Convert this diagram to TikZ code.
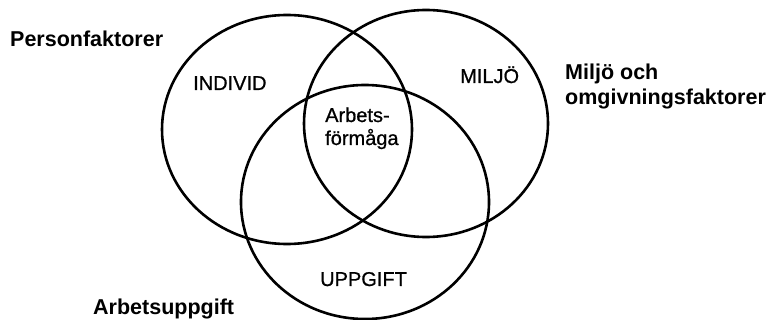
\documentclass[tikz,border=0pt]{standalone}
\usepackage{fontspec}
\setmainfont{Liberation Sans}
\newfontfamily\innerfont[FakeBold=0.8]{Liberation Sans}
\usetikzlibrary{shapes.geometric}
\tikzset{
  venn/.style={draw=black, line width=2.6pt, ellipse, inner sep=0pt},
  outer/.style={font=\fontsize{21.5}{25}\selectfont\bfseries, anchor=base west, inner sep=0pt},
  inner/.style={font=\innerfont\fontsize{20}{23}\selectfont, anchor=base west, inner sep=0pt}
}
\begin{document}
\begin{tikzpicture}[x=1pt,y=-1pt]
\useasboundingbox (0,0) rectangle (776,320);
\node[venn, minimum width=250pt, minimum height=229pt] (ind) at (287,129.5) {};
\node[venn, minimum width=244pt, minimum height=227pt] (mil) at (426,123.5) {};
\node[venn, minimum width=248pt, minimum height=234pt] (upp) at (365,202) {};
\node[outer] (pf) at (10,47) {Personfaktorer};
\node[outer] (mo1) at (565,80) {Miljö och};
\node[outer] (mo2) at (565,105) {omgivningsfaktorer};
\node[outer] (au) at (93,314) {Arbetsuppgift};
\node[inner] (lind) at (193,90) {INDIVID};
\node[inner] (lmil) at (460,83) {MILJÖ};
\node[inner] (af1) at (325,122) {Arbets-};
\node[inner] (af2) at (325,145) {förmåga};
\node[inner] (lupp) at (320,286) {UPPGIFT};
\end{tikzpicture}
\end{document}
